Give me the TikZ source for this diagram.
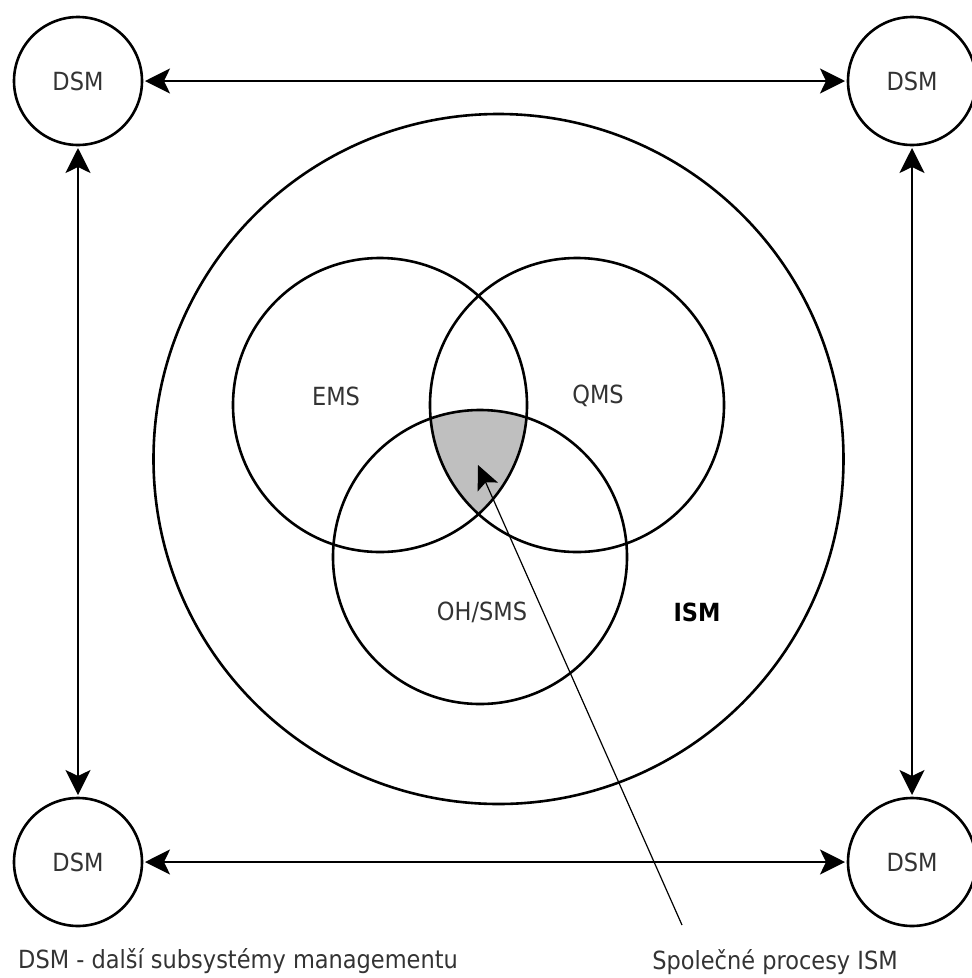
\documentclass[tikz,border=0pt]{standalone}
\usepackage{fontspec}
\setmainfont{DejaVu Sans Condensed}
\usetikzlibrary{arrows.meta}
\begin{document}
\begin{tikzpicture}[x=1pt,y=-1pt,
  every node/.style={font=\fontsize{25}{28}\selectfont, text=black!80},
  dsm/.style={circle, draw=black, line width=2.6pt, minimum size=128pt, inner sep=0pt, outer sep=3pt},
  ring/.style={circle, draw=black, line width=2.6pt, inner sep=0pt},
  link/.style={line width=2pt, {Stealth[length=25pt,width=25pt,inset=6pt]}-{Stealth[length=25pt,width=25pt,inset=6pt]}},
  pointer/.style={line width=1.2pt, -{Stealth[length=24pt,width=22pt,inset=5pt]}},
  label/.style={inner sep=0pt}]
  \useasboundingbox (0,0) rectangle (972,978);

  % shared area of the three subsystems
  \begin{scope}
    \clip (380,405) circle (147);
    \clip (577,405) circle (147);
    \fill[black!25] (480,557) circle (147);
  \end{scope}

  % integrated system and its three subsystems
  \node[ring, minimum size=690pt] (ism) at (498.5,459) {};
  \node[ring, minimum size=294pt] (ems) at (380,405) {};
  \node[ring, minimum size=294pt] (qms) at (577,405) {};
  \node[ring, minimum size=294pt] (ohs) at (480,557) {};

  \node[label] (emsl) at (336,396) {EMS};
  \node[label] (qmsl) at (598,396) {QMS};
  \node[label] (ohsl) at (482,612) {OH/SMS};
  \node[label, font=\fontsize{25}{28}\selectfont\bfseries, text=black] (isml) at (697,612) {ISM};

  % further management subsystems in the corners
  \node[dsm] (tl) at (78,81) {DSM};
  \node[dsm] (tr) at (912,81) {DSM};
  \node[dsm] (bl) at (78,862) {DSM};
  \node[dsm] (br) at (912,862) {DSM};

  \draw[link] (tl) -- (tr);
  \draw[link] (bl) -- (br);
  \draw[link] (tl) -- (bl);
  \draw[link] (tr) -- (br);

  % captions
  \node[label, anchor=west] (legend) at (18,961) {DSM - další subsystémy managementu};
  \node[label] (common) at (775,962) {Společné procesy ISM};

  \coordinate (ptip) at (478,465);
  \coordinate (pend) at (682,925);
  \draw[pointer] (pend) -- (ptip);
\end{tikzpicture}
\end{document}
